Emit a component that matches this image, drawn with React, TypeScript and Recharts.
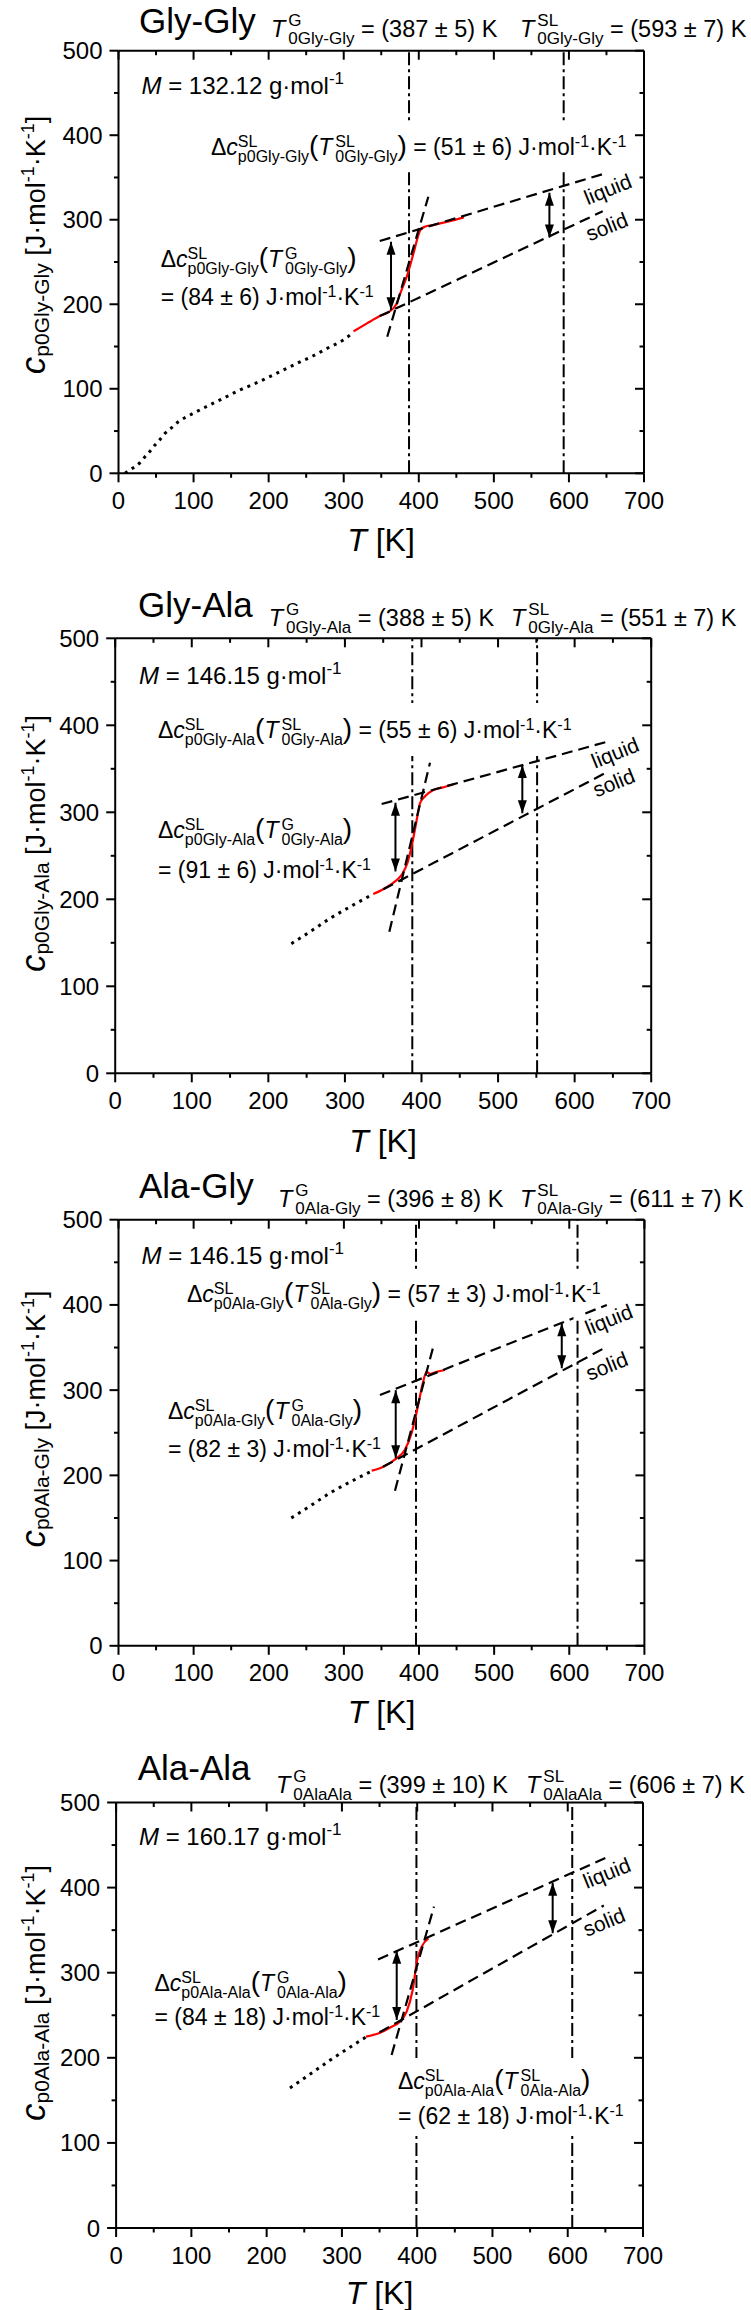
import React from 'react'
import { ComposedChart, Line, XAxis, YAxis, ReferenceLine } from 'recharts'

const FONT = '"Liberation Sans", Arial, Helvetica, sans-serif'
const W = 751

const xTicks = [0, 50, 100, 150, 200, 250, 300, 350, 400, 450, 500, 550, 600, 650, 700]
const yTicks = [0, 50, 100, 150, 200, 250, 300, 350, 400, 450, 500]

// Gly-Gly  (T in K, cp in J/mol/K)
const ggDotT = [8.7, 15, 22, 28.6, 35.3, 42, 48.6, 55.3, 62, 70.8, 79.7, 90, 99.7, 119.7, 139.6, 159.6, 179.6, 199.6, 219.6, 239.6, 259.5, 279.5, 299.5, 308.4]
const ggDotCp = [0, 3.9, 7.8, 12.6, 19.7, 26, 33.5, 40, 47.3, 54, 61, 66.5, 71, 80, 88.7, 97.7, 105.3, 113.6, 122.2, 130.9, 139.1, 148.6, 157.7, 163.6]
const ggRedT = [313, 331, 348, 362, 370, 377, 384, 393, 402, 408, 419, 440, 460]
const ggRedCp = [168, 177.4, 186, 192, 200, 216.8, 232.6, 260.3, 287.8, 291.7, 293.7, 298, 302.8]
const ggLiqT = [348, 645]
const ggLiqCp = [274.8, 354]
const ggSolT = [348, 645]
const ggSolCp = [186, 310]
const ggTanT = [358, 412.7]
const ggTanCp = [161.6, 327.2]
const ggArrGT = [363, 363]
const ggArrGCp = [193, 274]
const ggArrST = [574, 574]
const ggArrSCp = [279, 332]
const ggTemps = [387, 593]

// Gly-Ala
const gaDotT = [230, 255, 280.5, 310, 337]
const gaDotCp = [149, 163, 178, 193, 206]
const gaRedT = [337, 350, 365, 374, 381.5, 387, 393, 398, 405, 415.5, 428.5, 442]
const gaRedCp = [206, 211.5, 220.3, 228, 241.4, 260.5, 287.4, 310.3, 318.7, 325.6, 328.7, 332.2]
const gaLiqT = [348, 642]
const gaLiqCp = [309.5, 381]
const gaSolT = [350, 642]
const gaSolCp = [211.5, 346]
const gaTanT = [358, 411.1]
const gaTanCp = [162.8, 357]
const gaArrGT = [366, 366]
const gaArrGCp = [232, 311]
const gaArrST = [531.7, 531.7]
const gaArrSCp = [299, 354.4]
const gaTemps = [388, 551]

// Ala-Gly
const agDotT = [230, 255, 281, 310, 337]
const agDotCp = [150, 164, 179, 193, 205]
const agRedT = [337, 352.5, 370, 381, 390, 398, 405, 410, 414.6, 423.5, 434.6]
const agRedCp = [205.5, 210.2, 220, 229.8, 249.3, 278.7, 308, 321.6, 318.9, 321.6, 323.6]
const agLiqT = [348, 650]
const agLiqCp = [294.3, 400]
const agSolT = [352, 648]
const agSolCp = [210, 350]
const agTanT = [368, 419]
const agTanCp = [182, 351]
const agArrGT = [369, 369]
const agArrGCp = [220, 300]
const agArrST = [590, 590]
const agArrSCp = [325.6, 378.4]
const agTemps = [396, 611]

// Ala-Ala
const aaDotT = [231, 258, 284, 310, 333]
const aaDotCp = [164.5, 181, 197, 212, 225]
const aaRedT = [332, 350.6, 366, 377, 386, 394, 400, 406, 415]
const aaRedCp = [224.8, 229.5, 236.5, 242.4, 254.2, 279.7, 314.9, 330.6, 340.4]
const aaLiqT = [348, 650]
const aaLiqCp = [315.5, 434.8]
const aaSolT = [350, 648]
const aaSolCp = [230, 379]
const aaTanT = [366, 422.3]
const aaTanCp = [203.3, 377.6]
const aaArrGT = [372.8, 372.8]
const aaArrGCp = [244.4, 325.9]
const aaArrST = [580, 580]
const aaArrSCp = [346.3, 405.8]
const aaTemps = [399, 606]

const zip = (xs: number[], ys: number[]) => xs.map((x, i) => ({ x, y: ys[i] }))

const panels = [
  {
    key: 'gg', top: 0, h: 560, L: 118.5, R: 644, T: 50.7, B: 473.3,
    dot: zip(ggDotT, ggDotCp), red: zip(ggRedT, ggRedCp), liq: zip(ggLiqT, ggLiqCp), sol: zip(ggSolT, ggSolCp),
    tan: zip(ggTanT, ggTanCp), arrows: [zip(ggArrGT, ggArrGCp), zip(ggArrST, ggArrSCp)], temps: ggTemps,
  },
  {
    key: 'ga', top: 560, h: 570, L: 115.2, R: 651.2, T: 638.3, B: 1073.3,
    dot: zip(gaDotT, gaDotCp), red: zip(gaRedT, gaRedCp), liq: zip(gaLiqT, gaLiqCp), sol: zip(gaSolT, gaSolCp),
    tan: zip(gaTanT, gaTanCp), arrows: [zip(gaArrGT, gaArrGCp), zip(gaArrST, gaArrSCp)], temps: gaTemps,
  },
  {
    key: 'ag', top: 1130, h: 570, L: 118.5, R: 644.4, T: 1219.7, B: 1645.8,
    dot: zip(agDotT, agDotCp), red: zip(agRedT, agRedCp), liq: zip(agLiqT, agLiqCp), sol: zip(agSolT, agSolCp),
    tan: zip(agTanT, agTanCp), arrows: [zip(agArrGT, agArrGCp), zip(agArrST, agArrSCp)], temps: agTemps,
  },
  {
    key: 'aa', top: 1700, h: 610, L: 116.1, R: 643, T: 1802.5, B: 2228,
    dot: zip(aaDotT, aaDotCp), red: zip(aaRedT, aaRedCp), liq: zip(aaLiqT, aaLiqCp), sol: zip(aaSolT, aaSolCp),
    tan: zip(aaTanT, aaTanCp), arrows: [zip(aaArrGT, aaArrGCp), zip(aaArrST, aaArrSCp)], temps: aaTemps,
  },
]

// ---------- text helpers ----------
let ctx: CanvasRenderingContext2D | null = null
const measure = (t: string, size: number, italic?: boolean) => {
  if (!ctx) ctx = document.createElement('canvas').getContext('2d')
  if (!ctx) return t.length * size * 0.55
  ctx.font = `${italic ? 'italic ' : ''}${size}px ${FONT}`
  return ctx.measureText(t).width
}

type Seg = { t?: string; k?: 'n' | 'i' | 'sup' | 'sub' | 'st' | 'g'; s?: number }

const Txt = (props: any) => <text xmlSpace="preserve" style={{ whiteSpace: 'pre' }} {...props} />

const Rich = ({ x, y, segs, size = 24, ss = 17, up = 10, down = 7, anchor = 'start', rot = 0 }: {
  x: number; y: number; segs: Seg[]; size?: number; ss?: number; up?: number; down?: number; anchor?: string; rot?: number
}) => {
  let cx = 0
  const els: React.ReactNode[] = []
  segs.forEach((g, n) => {
    const k = g.k ?? 'n'
    const t = g.t ?? ''
    if (k === 'g') {
      cx += g.s ?? 2
    } else if (k === 'st') {
      const [a, b] = t.split('|')
      const s = g.s ?? ss
      els.push(<Txt key={n + 'a'} x={cx} y={-up} fontSize={s}>{a}</Txt>)
      els.push(<Txt key={n + 'b'} x={cx} y={down} fontSize={s}>{b}</Txt>)
      cx += Math.max(measure(a, s), measure(b, s))
    } else if (k === 'sup' || k === 'sub') {
      const s = g.s ?? ss
      els.push(<Txt key={n} x={cx} y={k === 'sup' ? -up : down} fontSize={s}>{t}</Txt>)
      cx += measure(t, s)
    } else {
      const s = g.s ?? size
      const it = k === 'i'
      els.push(<Txt key={n} x={cx} y={0} fontSize={s} fontStyle={it ? 'italic' : undefined}>{t}</Txt>)
      cx += measure(t, s, it)
    }
  })
  const off = anchor === 'middle' ? -cx / 2 : anchor === 'end' ? -cx : 0
  return (
    <g transform={`translate(${x},${y}) rotate(${rot}) translate(${off},0)`} fontFamily={FONT} fill="#000">
      {els}
    </g>
  )
}

const tLabel = (sup: string, sub: string, val: string): Seg[] => [
  { t: 'T', k: 'i' }, { k: 'g', s: 3 }, { t: `${sup}|${sub}`, k: 'st' }, { t: ` = ${val} K` },
]
const dLabel = (name: string, sup: string): Seg[] => [
  { t: 'Δ' }, { t: 'c', k: 'i' }, { t: `SL|p0${name}`, k: 'st' }, { t: '(', s: 28 }, { t: 'T', k: 'i' },
  { k: 'g', s: 3 }, { t: `${sup}|0${name}`, k: 'st' }, { t: ')', s: 28 },
]
const unitTail = (val: string): Seg[] => [{ t: `= ${val} J·mol` }, { t: '-1', k: 'sup' }, { t: '·K' }, { t: '-1', k: 'sup' }]

const labels = [
  {
    name: 'Gly-Gly', tsub: '0Gly-Gly', tg: '(387 ± 5)', tsl: '(593 ± 7)', M: '132.12', dsl: '(51 ± 6)', dg: '(84 ± 6)',
    title: [139, 33], tgPos: [271, 37], tslPos: [520, 37], mPos: [141.5, 94], dslPos: [211, 155], dgPos: [160.7, 267], dg2Pos: [160.7, 305],
    liq: [610.5, 190], sol: [609.5, 227.5], ytitle: [45, 245], xtitle: [381, 551], gap: [122, 170],
  },
  {
    name: 'Gly-Ala', tsub: '0Gly-Ala', tg: '(388 ± 5)', tsl: '(551 ± 7)', M: '146.15', dsl: '(55 ± 6)', dg: '(91 ± 6)',
    title: [138, 617], tgPos: [268.7, 626], tslPos: [511, 626], mPos: [139, 684], dslPos: [158, 737.7], dgPos: [158, 838], dg2Pos: [158, 877.7],
    liq: [617.8, 753.5], sol: [616.5, 783.4], ytitle: [45, 843.5], xtitle: [383, 1152], gap: [703, 756],
  },
  {
    name: 'Ala-Gly', tsub: '0Ala-Gly', tg: '(396 ± 8)', tsl: '(611 ± 7)', M: '146.15', dsl: '(57 ± 3)', dg: '(82 ± 3)',
    title: [139, 1198], tgPos: [278, 1207], tslPos: [520, 1207], mPos: [141.5, 1263.5], dslPos: [187, 1302.3], dgPos: [168, 1419], dg2Pos: [168, 1456.6],
    liq: [611.5, 1320.3], sol: [609.5, 1366.8], ytitle: [45, 1419], xtitle: [381.5, 1723], gap: [1270, 1320],
  },
  {
    name: 'Ala-Ala', tsub: '0AlaAla', tg: '(399 ± 10)', tsl: '(606 ± 7)', M: '160.17', dsl: '(62 ± 18)', dg: '(84 ± 18)',
    title: [137.7, 1780], tgPos: [276, 1793], tslPos: [526, 1793], mPos: [139, 1844.7], dslPos: [398, 2089], dgPos: [154.5, 1991.4], dg2Pos: [154.5, 2024.6],
    liq: [609.5, 1873.8], sol: [606.8, 1922.8], ytitle: [45, 1993], xtitle: [379.5, 2304], gap: [2058, 2134], dsl2Pos: [398, 2124.3],
  },
]

// ---------- axis ticks ----------
const MAJOR = 9
const MINOR = 4.5
const tickText = { fontSize: 24, fontFamily: FONT, fill: '#000' }

const BottomTick = (p: any) => {
  const major = p.payload.value % 100 === 0
  return (
    <g>
      <line x1={p.x} y1={p.y} x2={p.x} y2={p.y + (major ? MAJOR : MINOR)} stroke="#000" strokeWidth={2} />
      {major && <text x={p.x} y={p.y + 35.5} textAnchor="middle" {...tickText}>{p.payload.value}</text>}
    </g>
  )
}
const TopTick = (p: any) => {
  const major = p.payload.value % 100 === 0
  return <line x1={p.x} y1={p.y} x2={p.x} y2={p.y + (major ? MAJOR : MINOR)} stroke="#000" strokeWidth={2} />
}
const LeftTick = (p: any) => {
  const major = p.payload.value % 100 === 0
  return (
    <g>
      <line x1={p.x - (major ? MAJOR : MINOR)} y1={p.y} x2={p.x} y2={p.y} stroke="#000" strokeWidth={2} />
      {major && <text x={p.x - 16} y={p.y + 8.5} textAnchor="end" {...tickText}>{p.payload.value}</text>}
    </g>
  )
}
const RightTick = (p: any) => {
  const major = p.payload.value % 100 === 0
  return <line x1={p.x - (major ? MAJOR : MINOR)} y1={p.y} x2={p.x} y2={p.y} stroke="#000" strokeWidth={2} />
}

const arrowHead = (p: any) => {
  const { cx, cy, index } = p
  const d = index === 0 ? 1 : -1
  return <path key={`ah-${index}`} d={`M${cx},${cy} L${cx - 4.5},${cy - d * 13} L${cx + 4.5},${cy - d * 13} Z`} fill="#000" />
}

const axisLine = { stroke: '#000', strokeWidth: 2 }
const AX_B = 40
const AX_T = 10
const AX_R = 10

const Panel = ({ p }: { p: (typeof panels)[number] }) => (
  <div style={{ position: 'absolute', left: 0, top: p.top, width: W, height: p.h }}>
    <ComposedChart width={W} height={p.h}
      margin={{ top: p.T - p.top - AX_T, bottom: p.top + p.h - p.B - AX_B, left: 0, right: W - p.R - AX_R }}>
      <XAxis dataKey="x" type="number" domain={[0, 700]} ticks={xTicks} interval={0} height={AX_B} tickSize={0} tickMargin={0}
        tickLine={false} axisLine={axisLine} tick={(t: any) => <BottomTick {...t} />} allowDataOverflow />
      <XAxis xAxisId="top" orientation="top" dataKey="x" type="number" domain={[0, 700]} ticks={xTicks} interval={0} height={AX_T}
        tickSize={0} tickMargin={0} tickLine={false} axisLine={axisLine} tick={(t: any) => <TopTick {...t} />} allowDataOverflow />
      <YAxis type="number" domain={[0, 500]} ticks={yTicks} interval={0} width={p.L} tickSize={0} tickMargin={0}
        tickLine={false} axisLine={axisLine} tick={(t: any) => <LeftTick {...t} />} allowDataOverflow />
      <YAxis yAxisId="right" orientation="right" type="number" domain={[0, 500]} ticks={yTicks} interval={0} width={AX_R}
        tickSize={0} tickMargin={0} tickLine={false} axisLine={axisLine} tick={(t: any) => <RightTick {...t} />} allowDataOverflow />
      {p.temps.map((t) => (
        <ReferenceLine key={t} x={t} stroke="#000" strokeWidth={2} strokeDasharray="13 4 3 4" />
      ))}
      <Line data={p.dot} dataKey="y" type="monotone" stroke="#000" strokeWidth={3} strokeDasharray="3 5"
        dot={false} activeDot={false} isAnimationActive={false} />
      <Line data={p.red} dataKey="y" type="monotone" stroke="#ff0000" strokeWidth={2.2}
        dot={false} activeDot={false} isAnimationActive={false} />
      {[p.liq, p.sol, p.tan].map((d, i) => (
        <Line key={`fit-${i}`} data={d} dataKey="y" type="linear" stroke="#000" strokeWidth={2.2} strokeDasharray="11 6"
          dot={false} activeDot={false} isAnimationActive={false} />
      ))}
      {p.arrows.map((d, i) => (
        <Line key={`arr-${i}`} data={d} dataKey="y" type="linear" stroke="#000" strokeWidth={2}
          dot={arrowHead} activeDot={false} isAnimationActive={false} />
      ))}
    </ComposedChart>
  </div>
)

const Texts = () => (
  <svg width={W} height={2310} style={{ position: 'absolute', left: 0, top: 0, pointerEvents: 'none' }}>
    {labels.map((l, i) => {
      const p = panels[i]
      const px = (t: number) => p.L + (t * (p.R - p.L)) / 700
      const dslSegs = l.dsl2Pos ? dLabel(l.name, 'SL') : [...dLabel(l.name, 'SL'), { t: ' ' }, ...unitTail(l.dsl)]
      return (
        <g key={l.name}>
          {p.temps.map((t) => (
            <rect key={t} x={px(t) - 4} y={l.gap[0]} width={8} height={l.gap[1] - l.gap[0]} fill="#fff" />
          ))}
          <Rich x={l.title[0]} y={l.title[1]} segs={[{ t: l.name }]} size={35} />
          <Rich x={l.tgPos[0]} y={l.tgPos[1]} segs={tLabel('G', l.tsub, l.tg)} size={23.5} ss={17} up={11} down={7} />
          <Rich x={l.tslPos[0]} y={l.tslPos[1]} segs={tLabel('SL', l.tsub, l.tsl)} size={23.5} ss={17} up={11} down={7} />
          <Rich x={l.mPos[0]} y={l.mPos[1]} segs={[{ t: 'M', k: 'i' }, { t: ` = ${l.M} g·mol` }, { t: '-1', k: 'sup' }]} size={24} ss={17} up={10} />
          <Rich x={l.dslPos[0]} y={l.dslPos[1]} segs={dslSegs} size={23} ss={16} up={8} down={7} />
          {l.dsl2Pos && <Rich x={l.dsl2Pos[0]} y={l.dsl2Pos[1]} segs={unitTail(l.dsl)} size={23} ss={16} up={8} />}
          <Rich x={l.dgPos[0]} y={l.dgPos[1]} segs={dLabel(l.name, 'G')} size={23} ss={16} up={8} down={7} />
          <Rich x={l.dg2Pos[0]} y={l.dg2Pos[1]} segs={unitTail(l.dg)} size={23} ss={16} up={8} />
          <Rich x={l.liq[0]} y={l.liq[1] + 6} segs={[{ t: 'liquid' }]} size={21} anchor="middle" rot={-22} />
          <Rich x={l.sol[0]} y={l.sol[1] + 6} segs={[{ t: 'solid' }]} size={21} anchor="middle" rot={-22} />
          <Rich x={l.ytitle[0]} y={l.ytitle[1]} anchor="middle" rot={-90} up={11} down={4}
            segs={[{ t: 'c', k: 'i', s: 35 }, { t: `p0${l.name}`, k: 'sub', s: 21 }, { t: ' [J·mol', s: 27 }, { t: '-1', k: 'sup', s: 18 },
              { t: '·K', s: 27 }, { t: '-1', k: 'sup', s: 18 }, { t: ']', s: 27 }]} />
          <Rich x={l.xtitle[0]} y={l.xtitle[1]} anchor="middle" segs={[{ t: 'T', k: 'i' }, { t: ' [K]' }]} size={32} />
        </g>
      )
    })}
  </svg>
)

export default function App() {
  return (
    <div style={{ position: 'relative', width: W, height: 2310, background: '#fff' }}>
      <style>{'body{margin:0;}'}</style>
      {panels.map((p) => (
        <Panel key={p.key} p={p} />
      ))}
      <Texts />
    </div>
  )
}
